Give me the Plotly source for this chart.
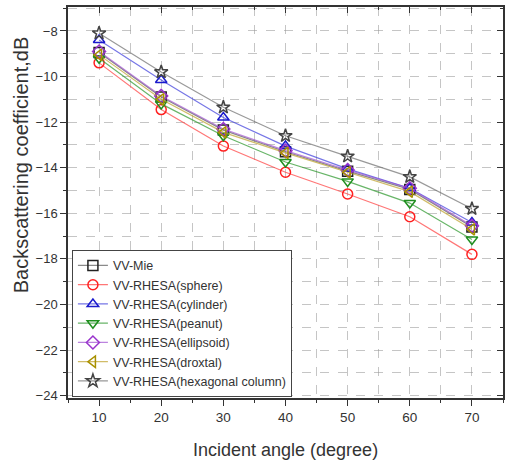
import plotly.graph_objects as go

angles = [10, 20, 30, 40, 50, 60, 70]
vv_mie = [-8.95, -10.9, -12.35, -13.3, -14.15, -14.95, -16.6]
vv_sphere = [-9.4, -11.45, -13.05, -14.2, -15.15, -16.15, -17.8]
vv_cylinder = [-8.4, -10.15, -11.8, -13.05, -14.05, -14.9, -16.4]
vv_peanut = [-9.2, -11.2, -12.6, -13.75, -14.6, -15.55, -17.15]
vv_ellipsoid = [-8.9, -10.85, -12.3, -13.25, -14.1, -14.9, -16.55]
vv_droxtal = [-9.05, -11.0, -12.45, -13.35, -14.2, -15.05, -16.7]
vv_hexagonal = [-8.1, -9.8, -11.35, -12.6, -13.5, -14.4, -15.8]

series = [
    ("VV-Mie", vv_mie, "square-open", "#222222", "rgba(60,60,60,0.6)"),
    ("VV-RHESA(sphere)", vv_sphere, "circle-open", "#ff2020", "rgba(255,60,60,0.7)"),
    ("VV-RHESA(cylinder)", vv_cylinder, "triangle-up-open", "#1a1acc", "rgba(60,60,220,0.7)"),
    ("VV-RHESA(peanut)", vv_peanut, "triangle-down-open", "#1f8f1f", "rgba(40,150,40,0.7)"),
    ("VV-RHESA(ellipsoid)", vv_ellipsoid, "diamond-open", "#9933cc", "rgba(160,80,210,0.7)"),
    ("VV-RHESA(droxtal)", vv_droxtal, "triangle-left-open", "#a89000", "rgba(190,160,40,0.7)"),
    ("VV-RHESA(hexagonal column)", vv_hexagonal, "star-open", "#444444", "rgba(110,110,110,0.7)"),
]

fig = go.Figure()
for name, vals, sym, mcol, lcol in series:
    fig.add_trace(go.Scatter(
        x=angles, y=vals, name=name, mode="lines+markers",
        line=dict(color=lcol, width=1.2),
        marker=dict(symbol=sym, size=10, color=mcol, line=dict(color=mcol, width=1.5)),
    ))

# mirror axes for inward ticks on top/right
fig.add_trace(go.Scatter(x=[], y=[], xaxis="x2", yaxis="y2", showlegend=False, hoverinfo="skip"))

font_family = "Arial, Liberation Sans, sans-serif"
grid_col = "rgba(150,150,150,0.55)"

fig.update_layout(
    width=508, height=464,
    margin=dict(l=68, r=3, t=7, b=66),
    paper_bgcolor="white", plot_bgcolor="white",
    font=dict(family=font_family, color="#333333"),
    xaxis=dict(
        range=[5, 75], dtick=10, tick0=10, ticks="outside", ticklen=6, tickwidth=1.2,
        tickcolor="#333", showline=True, linecolor="#333", linewidth=1.5, mirror=True,
        showgrid=True, gridcolor=grid_col, griddash="dash", gridwidth=1, zeroline=False,
        minor=dict(dtick=5, tick0=5, ticks="outside", ticklen=3, tickcolor="#333",
                   showgrid=True, gridcolor=grid_col, griddash="dash"),
        tickfont=dict(size=13.5, color="#333"),
    ),
    yaxis=dict(
        range=[-24.1, -6.95], dtick=2, tick0=-24, ticks="outside", ticklen=6, tickwidth=1.2,
        tickcolor="#333", showline=True, linecolor="#333", linewidth=1.5, mirror=True,
        showgrid=True, gridcolor=grid_col, griddash="dash", gridwidth=1, zeroline=False,
        minor=dict(dtick=1, tick0=-24, ticks="outside", ticklen=3, tickcolor="#333",
                   showgrid=True, gridcolor=grid_col, griddash="dash"),
        tickfont=dict(size=13, color="#333"),
    ),
    xaxis2=dict(overlaying="x", side="top", anchor="y2", range=[5, 75], dtick=10, tick0=10,
                ticks="inside", ticklen=6, tickcolor="#333", showticklabels=False,
                showgrid=False, zeroline=False,
                minor=dict(dtick=5, tick0=5, ticks="inside", ticklen=3, tickcolor="#333")),
    yaxis2=dict(overlaying="y", side="right", anchor="x2", range=[-24.1, -6.95], dtick=2, tick0=-24,
                ticks="inside", ticklen=6, tickcolor="#333", showticklabels=False,
                showgrid=False, zeroline=False,
                minor=dict(dtick=1, tick0=-24, ticks="inside", ticklen=3, tickcolor="#333")),
    legend=dict(
        x=0.009, y=0.003, xanchor="left", yanchor="bottom",
        bgcolor="white", bordercolor="#444", borderwidth=1,
        font=dict(size=12.5, color="#333"), tracegroupgap=0,
    ),
    showlegend=True,
    annotations=[
        dict(text="Incident angle (degree)", xref="paper", yref="paper",
             x=0.5, y=-0.133, xanchor="center", yanchor="middle", showarrow=False,
             font=dict(size=18, color="#333")),
        dict(text="Backscattering coefficient,dB", xref="paper", yref="paper",
             x=-47 / 437, y=(398 - 165) / 391, xanchor="center", yanchor="middle", showarrow=False,
             textangle=-90, font=dict(size=20, color="#333")),
    ],
)

fig.write_html("out.html")
